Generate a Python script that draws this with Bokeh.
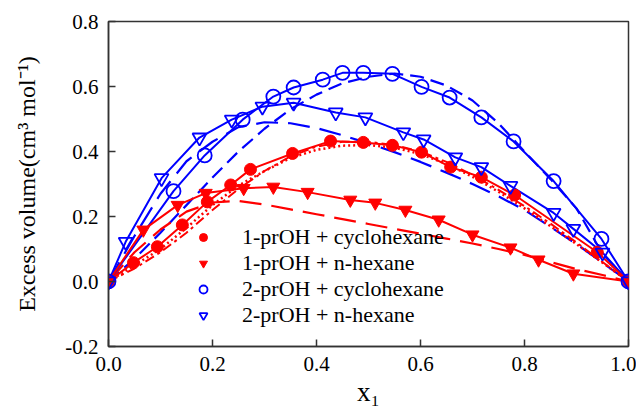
from bokeh.plotting import figure
from bokeh.models import Legend, LegendItem, Range1d, FixedTicker
from bokeh.embed import file_html
from bokeh.resources import INLINE

# ---- data ----
x_ticks = [0.0, 0.2, 0.4, 0.6, 0.8, 1.0]
x_tick_labels = ["0.0", "0.2", "0.4", "0.6", "0.8", "1.0"]
y_ticks = [-0.2, 0.0, 0.2, 0.4, 0.6, 0.8]
y_tick_labels = ["-0.2", "0.0", "0.2", "0.4", "0.6", "0.8"]

series_names = ["1-prOH + cyclohexane", "1-prOH + n-hexane",
                "2-prOH + cyclohexane", "2-prOH + n-hexane"]

# experimental points
x_1p_cyc = [0, 0.048, 0.094, 0.142, 0.19, 0.235, 0.273, 0.354, 0.427, 0.49, 0.546, 0.602, 0.658, 0.717, 0.781, 0.94, 1.0]
y_1p_cyc = [0, 0.058, 0.107, 0.174, 0.245, 0.297, 0.345, 0.394, 0.432, 0.428, 0.419, 0.398, 0.352, 0.321, 0.266, 0.09, 0]

x_1p_hex = [0, 0.067, 0.133, 0.187, 0.26, 0.317, 0.383, 0.465, 0.513, 0.571, 0.635, 0.70, 0.773, 0.827, 0.894, 1.0]
y_1p_hex = [0, 0.159, 0.235, 0.272, 0.287, 0.291, 0.275, 0.251, 0.242, 0.22, 0.19, 0.144, 0.104, 0.067, 0.024, 0]

x_2p_cyc = [0, 0.125, 0.185, 0.258, 0.317, 0.356, 0.412, 0.45, 0.49, 0.546, 0.602, 0.656, 0.717, 0.779, 0.856, 0.948, 1.0]
y_2p_cyc = [0, 0.278, 0.388, 0.498, 0.569, 0.597, 0.621, 0.642, 0.642, 0.639, 0.599, 0.566, 0.505, 0.431, 0.309, 0.131, 0]

x_2p_hex = [0, 0.033, 0.102, 0.175, 0.237, 0.296, 0.356, 0.437, 0.494, 0.567, 0.606, 0.667, 0.717, 0.773, 0.856, 0.894, 0.95, 1.0]
y_2p_hex = [0, 0.122, 0.318, 0.443, 0.498, 0.538, 0.55, 0.52, 0.505, 0.459, 0.437, 0.382, 0.352, 0.294, 0.211, 0.162, 0.089, 0]

# model curves
x_model = [0, 0.05, 0.10, 0.15, 0.20, 0.25, 0.30, 0.35, 0.40, 0.45, 0.50,
           0.55, 0.60, 0.65, 0.70, 0.75, 0.80, 0.85, 0.90, 0.95, 1.0]
y_1p_cyc_dot = [0, 0.05, 0.10, 0.165, 0.235, 0.295, 0.34, 0.38, 0.405, 0.418, 0.42,
                0.412, 0.392, 0.362, 0.322, 0.276, 0.225, 0.17, 0.115, 0.058, 0]
y_1p_cyc_dash = [0, 0.04, 0.09, 0.15, 0.22, 0.285, 0.34, 0.385, 0.415, 0.43, 0.43,
                 0.42, 0.40, 0.368, 0.328, 0.282, 0.232, 0.178, 0.12, 0.06, 0]
y_1p_hex_dash = [0, 0.09, 0.16, 0.215, 0.243, 0.248, 0.237, 0.222, 0.207, 0.192, 0.177,
                 0.162, 0.147, 0.132, 0.117, 0.10, 0.082, 0.06, 0.038, 0.02, 0]
y_2p_cyc_dash = [0, 0.07, 0.15, 0.235, 0.32, 0.40, 0.47, 0.53, 0.575, 0.61, 0.63,
                 0.64, 0.63, 0.603, 0.557, 0.487, 0.40, 0.315, 0.225, 0.085, 0]
y_2p_hex_dash = [0, 0.14, 0.27, 0.37, 0.43, 0.475, 0.49, 0.487, 0.472, 0.45, 0.425,
                 0.398, 0.368, 0.335, 0.30, 0.262, 0.22, 0.168, 0.115, 0.058, 0]

RED = "#ff0000"
BLUE = "#0000ff"
FONT = "Liberation Serif"

p = figure(width=636, height=409, output_backend="svg", toolbar_location=None,
           x_range=Range1d(0, 1), y_range=Range1d(-0.2, 0.8),
           min_border_left=108, min_border_right=8, min_border_top=21, min_border_bottom=61)

p.xgrid.visible = False
p.ygrid.visible = False
p.outline_line_color = "#333333"
p.outline_line_width = 1.5
p.background_fill_color = "white"
p.border_fill_color = "white"

for ax in (p.xaxis[0], p.yaxis[0]):
    ax.major_tick_in = 7
    ax.major_tick_out = 0
    ax.minor_tick_line_color = None
    ax.axis_line_color = "#333333"
    ax.axis_line_width = 1.5
    ax.major_tick_line_color = "#333333"
    ax.major_tick_line_width = 1.5
    ax.major_label_text_font = FONT
    ax.major_label_text_font_size = "21px"
    ax.major_label_text_color = "black"
    ax.axis_label_text_font = FONT
    ax.axis_label_text_font_style = "normal"
    ax.axis_label_text_color = "black"

p.xaxis.ticker = FixedTicker(ticks=x_ticks)
p.xaxis.major_label_overrides = dict(zip(x_ticks, x_tick_labels))
p.yaxis.ticker = FixedTicker(ticks=y_ticks)
p.yaxis.major_label_overrides = dict(zip(y_ticks, y_tick_labels))
p.xaxis.major_label_standoff = 10
p.yaxis.major_label_standoff = 10
p.xaxis.axis_label = "x\u2081"
p.xaxis.axis_label_text_font_size = "27px"
p.xaxis.axis_label_standoff = 3
p.yaxis.axis_label = "Excess volume(cm\u00b3 mol\u207b\u00b9)"
p.yaxis.axis_label_text_font_size = "24px"
p.yaxis.axis_label_standoff = 22

# model curves
p.line(x_model, y_2p_cyc_dash, color=BLUE, line_width=2.2, line_dash="14 7")
p.line(x_model, y_2p_hex_dash, color=BLUE, line_width=2.2, line_dash="22 10")
p.line(x_model, y_1p_hex_dash, color=RED, line_width=2.2, line_dash="22 10")
p.line(x_model, y_1p_cyc_dash, color=RED, line_width=2, line_dash="10 4 3 4")
p.line(x_model, y_1p_cyc_dot, color=RED, line_width=2.5, line_dash="2 3")

# fitted (solid) lines through the data
p.line(x_2p_cyc, y_2p_cyc, color=BLUE, line_width=2)
p.line(x_2p_hex, y_2p_hex, color=BLUE, line_width=2)
p.line(x_1p_cyc, y_1p_cyc, color=RED, line_width=2)
p.line(x_1p_hex, y_1p_hex, color=RED, line_width=2)

# markers
r1 = p.scatter(x_1p_cyc, y_1p_cyc, marker="circle", size=12, fill_color=RED, line_color=RED)
r2 = p.scatter(x_1p_hex, y_1p_hex, marker="inverted_triangle", size=13, fill_color=RED, line_color=RED)
r3 = p.scatter(x_2p_cyc, y_2p_cyc, marker="circle", size=14, fill_color=None, line_color=BLUE, line_width=1.8)
r4 = p.scatter(x_2p_hex, y_2p_hex, marker="inverted_triangle", size=14, fill_color=None, line_color=BLUE, line_width=1.8)

legend = Legend(items=[LegendItem(label=n, renderers=[r]) for n, r in zip(series_names, [r1, r2, r3, r4])],
                location=(85, 18))
legend.label_text_font = FONT
legend.label_text_font_size = "22px"
legend.label_text_color = "black"
legend.border_line_color = None
legend.background_fill_alpha = 0
legend.padding = 0
legend.margin = 0
legend.spacing = 0
legend.glyph_width = 20
legend.glyph_height = 20
legend.label_height = 20
legend.label_standoff = 29
p.add_layout(legend)

open("out.html", "w").write(file_html(p, INLINE))
